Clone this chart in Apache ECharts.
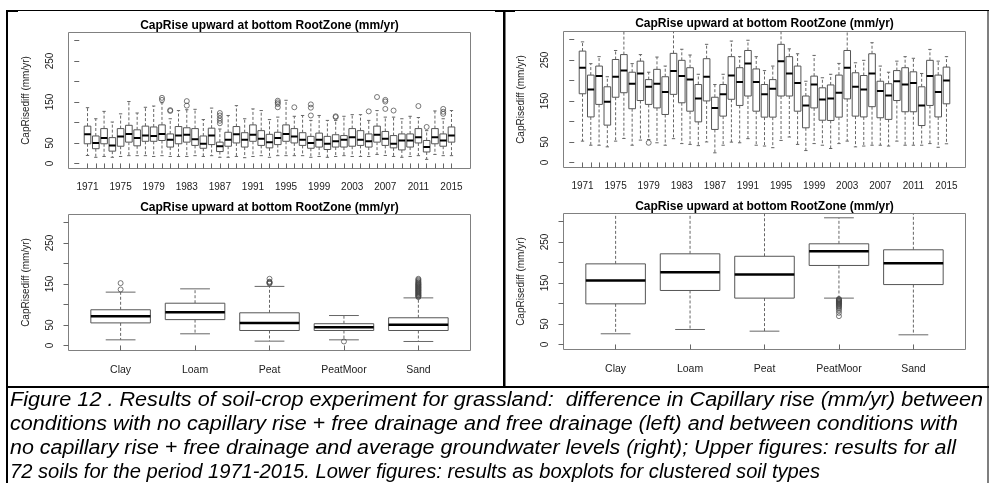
<!DOCTYPE html>
<html>
<head>
<meta charset="utf-8">
<title>CapRise upward at bottom RootZone</title>
<script src="https://cdn.jsdelivr.net/npm/echarts@6/dist/echarts.min.js"></script>
<style>
  html, body { margin: 0; padding: 0; background: #fff; }
  #chart { width: 989px; height: 483px; }
</style>
</head>
<body>
<div id="chart"></div>
<script>
// ---- categories ----
const years = [1971, 1972, 1973, 1974, 1975, 1976, 1977, 1978, 1979, 1980,
  1981, 1982, 1983, 1984, 1985, 1986, 1987, 1988, 1989, 1990,
  1991, 1992, 1993, 1994, 1995, 1996, 1997, 1998, 1999, 2000,
  2001, 2002, 2003, 2004, 2005, 2006, 2007, 2008, 2009, 2010,
  2011, 2012, 2013, 2014, 2015];
const soilTypes = ['Clay', 'Loam', 'Peat', 'PeatMoor', 'Sand'];

// ---- y axis ticks ----
const yTickValues = [0, 50, 100, 150, 200, 250, 300];
const yTickLabels = [0, 50, 150, 250];

// ---- box statistics: [lower whisker, Q1, median, Q3, upper whisker] ----
// free drainage vs no capillary rise, per year
const leftYearStats = [
  [19.5, 48, 71, 91, 136], [15, 36, 50, 67, 109], [17, 48, 62, 85, 127], [15, 30, 44, 63, 101],
  [17, 42, 66, 85, 121], [19, 52, 72, 93, 151], [19, 43, 62, 82, 123], [19, 54, 68, 91, 137],
  [17, 54, 67, 89, 140], [19, 56, 72, 94, 148], [17, 40, 58, 72, 109], [17, 48, 68, 90, 129],
  [17, 52, 70, 87, 131], [19, 44, 59, 85, 132], [17, 37, 48, 67, 107], [19, 46, 68, 86, 135],
  [15, 29, 42, 52, 84], [15, 42, 58, 76, 117], [17, 50, 71, 90, 141], [14, 40, 58, 75, 109],
  [17, 54, 70, 94, 133], [19, 44, 60, 80, 129], [15, 38, 52, 71, 107], [19, 46, 62, 76, 113],
  [19, 54, 72, 94, 154], [19, 50, 66, 85, 115], [19, 44, 58, 75, 117], [15, 37, 50, 66, 105],
  [17, 40, 58, 74, 117], [15, 34, 48, 66, 105], [17, 40, 54, 70, 105], [19, 40, 58, 68, 115],
  [17, 42, 64, 85, 119], [17, 44, 58, 80, 119], [17, 40, 54, 72, 105], [22, 52, 70, 91, 129],
  [19.5, 44, 60, 78, 113], [17, 38, 48, 68, 113], [15, 33, 56, 72, 109], [17, 40, 56, 72, 115],
  [19, 50, 64, 85, 112], [10, 28, 40, 56, 80], [22, 48, 64, 85, 128], [19, 42, 56, 72, 109],
  [19, 52, 68, 89, 129]
];
const leftYearOutliers = [
  [1980, 155], [1980, 160], [1981, 128], [1981, 130], [1983, 141], [1983, 152],
  [1987, 98], [1987, 104], [1987, 110], [1987, 117], [1987, 123],
  [1994, 137], [1994, 145], [1994, 149], [1994, 153], [1996, 137],
  [1998, 117], [1998, 136], [1998, 144], [2001, 113], [2001, 115], [2005, 127],
  [2006, 162], [2007, 133], [2007, 151], [2007, 155], [2008, 129], [2011, 140],
  [2012, 89], [2014, 121], [2014, 126], [2014, 133]
];

// average groundwater levels vs no capillary rise, per year
const rightYearStats = [
  [52, 167.5, 231, 271.5, 294], [42, 111, 178, 213, 241], [42, 141.5, 210.5, 235, 258], [38, 91, 148, 184.5, 209],
  [52, 159, 209, 251, 273], [58.5, 170, 224, 263, 322], [42, 131, 192, 220, 241], [54.5, 151, 217, 247, 263],
  [56, 141.5, 184.5, 202, 220], [48, 133, 192, 227, 257], [42, 117, 171.5, 209, 235], [58, 166, 223, 266, 322],
  [46, 145.5, 210.5, 249, 276], [44, 125, 202, 231, 262], [41, 99, 156, 190, 215], [50, 150, 209, 253, 288],
  [23.5, 80.5, 133, 159, 190], [42, 113, 166, 190, 215], [49.6, 154, 212, 258, 296], [48, 139, 196, 231, 258],
  [58, 162, 241, 273, 298], [42, 125, 196, 228, 258], [40, 110.5, 166, 190, 224], [36, 110.5, 179.7, 202, 235],
  [53.7, 162, 247, 288, 322], [62, 162, 217, 258, 277], [44, 125, 194, 235, 265], [29, 84.5, 139, 162, 198],
  [46, 133, 190, 210.5, 261], [42, 103, 153.7, 182, 206.5], [34, 102.4, 156, 189, 215], [46, 110.5, 170, 213, 241.5],
  [52, 155, 231, 273, 322], [38, 113, 184.5, 218.7, 243], [40, 111, 178, 212, 249], [42, 136, 217, 265, 292],
  [42, 109, 174, 198, 235], [40, 105, 163, 192, 220], [52, 151, 198, 224, 247], [42, 123.6, 190, 231, 258],
  [42, 123.6, 194, 221, 254], [42, 90, 139, 184.5, 217], [46, 139, 210.5, 249, 275.6], [37, 111, 172, 213, 247],
  [45.5, 143, 200, 232.5, 258]
];
const rightYearOutliers = [
  [1979, 48]
];

// clustered soil types
const leftSoilStats = [
  [13.7, 55, 71.5, 87, 130],
  [28.4, 63, 81, 103, 138],
  [10.5, 36.5, 54.5, 79.6, 144],
  [13.7, 36.5, 44.6, 53, 73],
  [9.7, 36.5, 50.4, 67.5, 116]
];
const leftSoilOutliers = [
  ['Clay', 136.5], ['Clay', 152],
  ['Peat', 151], ['Peat', 152.5], ['Peat', 154], ['Peat', 155.5], ['Peat', 162.5],
  ['PeatMoor', 9.7],
  ['Sand', 118], ['Sand', 119.4], ['Sand', 121], ['Sand', 122.3], ['Sand', 124], ['Sand', 125.6],
  ['Sand', 127], ['Sand', 128.7], ['Sand', 130], ['Sand', 131.8], ['Sand', 133.2], ['Sand', 134.5],
  ['Sand', 136.1], ['Sand', 137.6], ['Sand', 139], ['Sand', 140.7], ['Sand', 142], ['Sand', 143.6],
  ['Sand', 145], ['Sand', 146.8], ['Sand', 148.2], ['Sand', 149.5], ['Sand', 151.3], ['Sand', 153],
  ['Sand', 155], ['Sand', 157.5], ['Sand', 160], ['Sand', 162.5]
];

const rightSoilStats = [
  [26, 99, 156, 196.5, 325],
  [36.5, 131.6, 176, 221, 325],
  [32.4, 113, 170.6, 215, 325],
  [113, 192.6, 227.5, 245.4, 308.8],
  [23.5, 146, 198.3, 230.8, 325]
];
const rightSoilOutliers = [
  ['PeatMoor', 111], ['PeatMoor', 109.5], ['PeatMoor', 108], ['PeatMoor', 106.5], ['PeatMoor', 105],
  ['PeatMoor', 103.5], ['PeatMoor', 102], ['PeatMoor', 100.5], ['PeatMoor', 99], ['PeatMoor', 97],
  ['PeatMoor', 95], ['PeatMoor', 93], ['PeatMoor', 90.5], ['PeatMoor', 87], ['PeatMoor', 83],
  ['PeatMoor', 77], ['PeatMoor', 69]
];

const titleText = 'CapRise upward at bottom RootZone (mm/yr)';
const yName = 'CapRisediff (mm/yr)';
const captionLines = [
  'Figure 12 . Results of soil-crop experiment for grassland:  difference in Capillary rise (mm/yr) between',
  'conditions with no capillary rise + free drainage and free drainage (left) and between conditions with',
  'no capillary rise + free drainage and average groundwater levels (right); Upper figures: results for all',
  '72 soils for the period 1971-2015. Lower figures: results as boxplots for clustered soil types'
];

// ---- layout ----
const FONT = '"Liberation Sans", Arial, Helvetica, sans-serif';
const Y_MIN = -12.3, Y_MAX = 319.3;
const panels = [
  { left: 68.5, top: 32.5, cats: years, stats: leftYearStats, outliers: leftYearOutliers, step: 4, med: 2, labelSize: 10, titleY: 25.5 },
  { left: 563.5, top: 31.5, cats: years, stats: rightYearStats, outliers: rightYearOutliers, step: 4, med: 2, labelSize: 10, titleY: 24 },
  { left: 68.5, top: 214.5, cats: soilTypes, stats: leftSoilStats, outliers: leftSoilOutliers, step: 1, med: 2.5, labelSize: 10.5, titleY: 208 },
  { left: 563.5, top: 213.5, cats: soilTypes, stats: rightSoilStats, outliers: rightSoilOutliers, step: 1, med: 2.5, labelSize: 10.5, titleY: 206.5 }
];
const PW = 402, PH = 136;
const BOX_COLOR = '#555';
const WHISKER_COLOR = '#666';

function boxRenderer(medianWidth) {
  return function (params, api) {
    const x = api.value(0);
    const lo = api.coord([x, api.value(1)]);
    const q1 = api.coord([x, api.value(2)]);
    const md = api.coord([x, api.value(3)]);
    const q3 = api.coord([x, api.value(4)]);
    const hi = api.coord([x, api.value(5)]);
    const bw = api.size([0.8, 0])[0];
    const cx = lo[0];
    const half = bw / 2, cap = bw / 4;
    const dashed = { stroke: WHISKER_COLOR, lineWidth: 1, lineDash: [3, 2] };
    const solid = { stroke: WHISKER_COLOR, lineWidth: 1 };
    return {
      type: 'group',
      children: [
        { type: 'line', shape: { x1: cx, y1: q3[1], x2: cx, y2: hi[1] }, style: dashed },
        { type: 'line', shape: { x1: cx, y1: q1[1], x2: cx, y2: lo[1] }, style: dashed },
        { type: 'line', shape: { x1: cx - cap, y1: hi[1], x2: cx + cap, y2: hi[1] }, style: solid },
        { type: 'line', shape: { x1: cx - cap, y1: lo[1], x2: cx + cap, y2: lo[1] }, style: solid },
        { type: 'rect', shape: { x: cx - half, y: q3[1], width: bw, height: q1[1] - q3[1] },
          style: { fill: '#fff', stroke: BOX_COLOR, lineWidth: 1 } },
        { type: 'line', shape: { x1: cx - half, y1: md[1], x2: cx + half, y2: md[1] },
          style: { stroke: '#000', lineWidth: medianWidth } }
      ]
    };
  };
}

const grid = [], xAxis = [], yAxis = [], series = [], graphics = [];

panels.forEach((p, k) => {
  const n = p.cats.length;
  const pad = 0.5 + 0.04 * n;
  const tickPos = p.cats.map((c, i) => i + 1);
  const labelPos = tickPos.filter((v, i) => i % p.step === 0);

  grid.push({ left: p.left, top: p.top, width: PW, height: PH, show: true,
    borderColor: '#808080', borderWidth: 1, backgroundColor: 'transparent' });

  xAxis.push({
    type: 'value', gridIndex: k, min: 1 - pad, max: n + pad,
    axisLine: { show: false },
    splitLine: { show: false },
    axisTick: { show: true, customValues: tickPos, length: 5, lineStyle: { color: '#666', width: 1 } },
    axisLabel: { customValues: labelPos, formatter: v => String(p.cats[Math.round(v) - 1]),
      margin: 14, fontSize: p.labelSize, fontFamily: FONT, color: '#222' }
  });

  yAxis.push({
    type: 'value', gridIndex: k, min: Y_MIN, max: Y_MAX,
    name: yName, nameLocation: 'middle', nameRotate: 90, nameGap: 37,
    nameTextStyle: { fontSize: 10, fontFamily: FONT, color: '#222' },
    axisLine: { show: false },
    splitLine: { show: false },
    axisTick: { show: true, customValues: yTickValues, length: 5, lineStyle: { color: '#666', width: 1 } },
    axisLabel: { customValues: yTickLabels, rotate: 90, margin: 13, fontSize: 10, fontFamily: FONT, color: '#222' }
  });

  series.push({
    type: 'custom', xAxisIndex: k, yAxisIndex: k, clip: true,
    renderItem: boxRenderer(p.med),
    encode: { x: 0, y: [1, 2, 3, 4, 5] },
    data: p.stats.map((s, i) => [i + 1].concat(s)),
    z: 3
  });

  series.push({
    type: 'scatter', xAxisIndex: k, yAxisIndex: k,
    symbol: 'circle', symbolSize: 5,
    itemStyle: { color: 'transparent', borderColor: '#444', borderWidth: 0.9 },
    data: p.outliers.map(o => [p.cats.indexOf(o[0]) + 1, o[1]]),
    z: 4
  });

  graphics.push({
    type: 'text', x: p.left + PW / 2, y: p.titleY,
    style: { text: titleText, font: 'bold 12px ' + FONT, fill: '#000', align: 'center', verticalAlign: 'middle' }
  });
});

// document frame lines
const frame = [
  [6, 10, 2, 473], [6, 10, 983, 1], [6, 10, 12, 2], [495, 10, 20, 2],
  [503, 10, 2.5, 378], [6, 386, 983, 2], [987.5, 10, 1, 473]
];
frame.forEach(r => graphics.push({
  type: 'rect', shape: { x: r[0], y: r[1], width: r[2], height: r[3] }, style: { fill: '#000' }, silent: true
}));

// caption, condensed italic; each line set to its column width
const capFont = 'italic 20px ' + FONT;
const capRight = [983, 958, 956, 820];
const mctx = document.createElement('canvas').getContext('2d');
mctx.font = capFont;
captionLines.forEach((t, i) => graphics.push({
  type: 'text', x: 10, y: 400 + 24 * i, scaleX: (capRight[i] - 10) / mctx.measureText(t).width,
  style: { text: t, font: capFont, fill: '#000', align: 'left', verticalAlign: 'middle' }
}));

const chart = echarts.init(document.getElementById('chart'), null, { renderer: 'canvas' });
chart.setOption({
  animation: false,
  backgroundColor: '#fff',
  grid, xAxis, yAxis, series,
  graphic: { elements: graphics }
});
</script>
</body>
</html>
